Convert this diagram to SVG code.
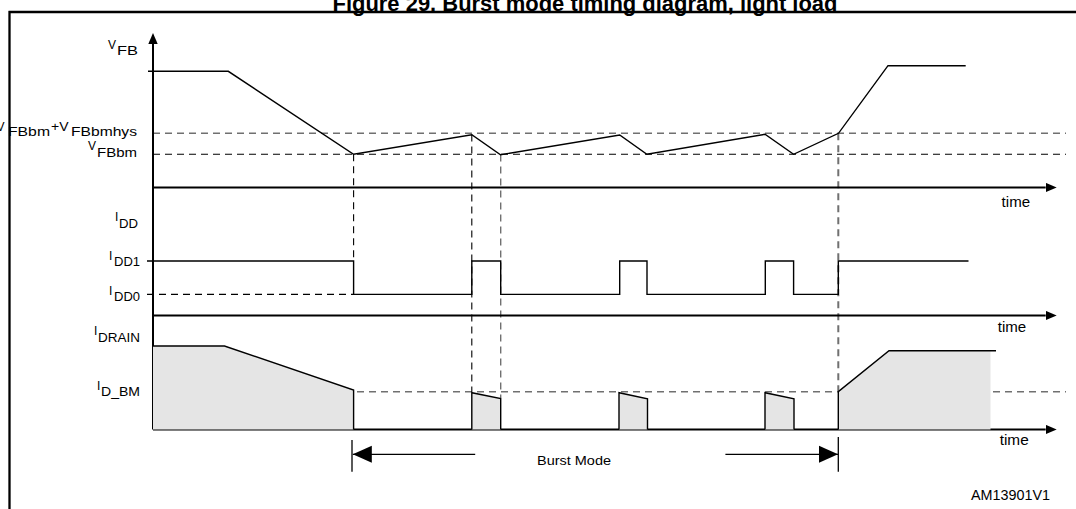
<svg xmlns="http://www.w3.org/2000/svg" width="1076" height="509" viewBox="0 0 1076 509">
<style>
text{font-family:"Liberation Sans",Arial,sans-serif;fill:#000}
.title{font-size:22px;font-weight:bold}
.m{font-size:12px}
.s{font-size:13px}
.t{font-size:14px}
.ax{stroke:#000;stroke-width:2;fill:none}
.sig{stroke:#000;stroke-width:1.4;fill:none;stroke-linejoin:miter}
.fill{fill:#e5e5e5;stroke:none}
.dk{stroke:#000;stroke-width:1.1;stroke-dasharray:7 5;fill:none}
.gr{stroke:#707070;stroke-width:1.4;stroke-dasharray:7 5;fill:none}
.gr2{stroke:#707070;stroke-width:2;stroke-dasharray:7 5;fill:none}
.bm{stroke:#000;stroke-width:1.3;fill:none}
</style>
<defs>
<marker id="ah" markerUnits="userSpaceOnUse" markerWidth="12" markerHeight="10" refX="0" refY="5" orient="auto" viewBox="0 0 12 10"><path d="M0,0.3 L11,5 L0,9.7 z" fill="#000"/></marker>
<marker id="bh" markerUnits="userSpaceOnUse" markerWidth="20" markerHeight="18" refX="19" refY="9" orient="auto" viewBox="0 0 20 18"><path d="M0,0.5 L19,9 L0,17.5 z" fill="#000"/></marker>
</defs>

<g id="title"><text class="title" x="585" y="10.5" text-anchor="middle" textLength="505" lengthAdjust="spacingAndGlyphs">Figure 29. Burst mode timing diagram, light load</text></g>

<g id="frame"><path d="M8.5,12 H1076 M9.5,11 V509" stroke="#000" stroke-width="2.3" fill="none"/></g>

<g id="reference-lines">
<line class="gr" x1="153" y1="133.3" x2="1066" y2="133.3"/>
<line class="dk" x1="153" y1="154.3" x2="1066" y2="154.3"/>
<line class="dk" x1="147" y1="294.4" x2="353.6" y2="294.4"/>
<line class="gr" x1="153" y1="391.7" x2="1066" y2="391.7"/>
<line class="dk" x1="353.6" y1="154.3" x2="353.6" y2="261"/>
<line class="dk" x1="471.8" y1="134.5" x2="471.8" y2="392"/>
<line class="gr" x1="500.7" y1="154.5" x2="500.7" y2="398"/>
<line class="gr2" x1="838.3" y1="133.3" x2="838.3" y2="391.7"/>
</g>

<g id="axes">
<line class="ax" x1="153" y1="429.5" x2="153" y2="44" stroke-width="2.5" marker-end="url(#ah)"/>
<line class="ax" x1="153" y1="187.5" x2="1045.7" y2="187.5" marker-end="url(#ah)"/>
<line class="ax" x1="153" y1="315.5" x2="1045.7" y2="315.5" marker-end="url(#ah)"/>
<line class="ax" x1="153" y1="429.5" x2="1045.7" y2="429.5" marker-end="url(#ah)"/>
<text class="t" x="1001.6" y="206.7" textLength="28.5" lengthAdjust="spacingAndGlyphs">time</text>
<text class="t" x="997.7" y="332" textLength="28.5" lengthAdjust="spacingAndGlyphs">time</text>
<text class="t" x="999.7" y="445" textLength="29" lengthAdjust="spacingAndGlyphs">time</text>
</g>

<g id="vfb-signal">
<path class="sig" d="M148,71.3 H228.3 L353.6,154.3 L471.8,134.7 L500.5,154.7 L619.7,135 L646.9,154.3 L765,134.3 L793.6,154.3 L838.5,133.3 L888,65.7 H965.7"/>
</g>

<g id="idd-signal">
<path class="sig" d="M147,261 H353.6 V294.4 H471.8 V261 H500.7 V294.4 H619.7 V261 H647 V294.4 H765.3 V261 H793.6 V294.4 H838.3 V261 H968.5"/>
</g>

<g id="idrain-signal">
<polygon class="fill" points="153,346 224.5,346 353.6,390 353.6,429.5 153,429.5"/>
<polygon class="fill" points="471.8,429.5 471.8,392.7 500.7,398.5 500.7,429.5"/>
<polygon class="fill" points="619,429.5 619,392.7 647.5,398.7 647.5,429.5"/>
<polygon class="fill" points="765,429.5 765,392.7 794,398.7 794,429.5"/>
<polygon class="fill" points="838.3,429.5 838.3,391.7 889,350.7 990.5,350.7 990.5,429.5"/>
<path class="sig" d="M153,346 H224.5 L353.6,390 V429.5"/>
<path class="sig" d="M471.8,429.5 V392.7 L500.7,398.5 V429.5"/>
<path class="sig" d="M619,429.5 V392.7 L647.5,398.7 V429.5"/>
<path class="sig" d="M765,429.5 V392.7 L794,398.7 V429.5"/>
<path class="sig" d="M838.3,429.5 V391.7 L889,350.7 H996"/>
</g>

<g id="labels">
<text class="m" x="108" y="49.3">V</text>
<text class="s" x="117" y="55" textLength="21" lengthAdjust="spacingAndGlyphs">FB</text>
<text class="m" x="-3.5" y="131">V</text>
<text class="s" x="8" y="136" textLength="42" lengthAdjust="spacingAndGlyphs">FBbm</text>
<text class="m" x="51" y="131" textLength="17.5" lengthAdjust="spacingAndGlyphs">+V</text>
<text class="s" x="71" y="136" textLength="66" lengthAdjust="spacingAndGlyphs">FBbmhys</text>
<text class="m" x="88" y="150">V</text>
<text class="s" x="97" y="157" textLength="40" lengthAdjust="spacingAndGlyphs">FBbm</text>
<text class="m" x="115" y="221">I</text>
<text class="s" x="119" y="228" textLength="19" lengthAdjust="spacingAndGlyphs">DD</text>
<text class="m" x="109" y="260">I</text>
<text class="s" x="114" y="266" textLength="26" lengthAdjust="spacingAndGlyphs">DD1</text>
<text class="m" x="109" y="295">I</text>
<text class="s" x="114" y="301" textLength="26" lengthAdjust="spacingAndGlyphs">DD0</text>
<text class="m" x="94" y="335">I</text>
<text class="s" x="98" y="342" textLength="42" lengthAdjust="spacingAndGlyphs">DRAIN</text>
<text class="m" x="97" y="390">I</text>
<text class="s" x="101" y="396" textLength="39" lengthAdjust="spacingAndGlyphs">D_BM</text>
</g>

<g id="burst-mode">
<line class="bm" x1="352" y1="440" x2="352" y2="471.7"/>
<line class="bm" x1="838.3" y1="437" x2="838.3" y2="471.7"/>
<line class="bm" x1="475.2" y1="454.3" x2="352.8" y2="454.3" marker-end="url(#bh)"/>
<line class="bm" x1="725.4" y1="454.3" x2="838" y2="454.3" marker-end="url(#bh)"/>
<text x="537" y="465" font-size="13.5" textLength="74" lengthAdjust="spacingAndGlyphs">Burst Mode</text>
</g>

<g id="code"><text x="971" y="500" font-size="14.5" textLength="79" lengthAdjust="spacingAndGlyphs">AM13901V1</text></g>
</svg>
